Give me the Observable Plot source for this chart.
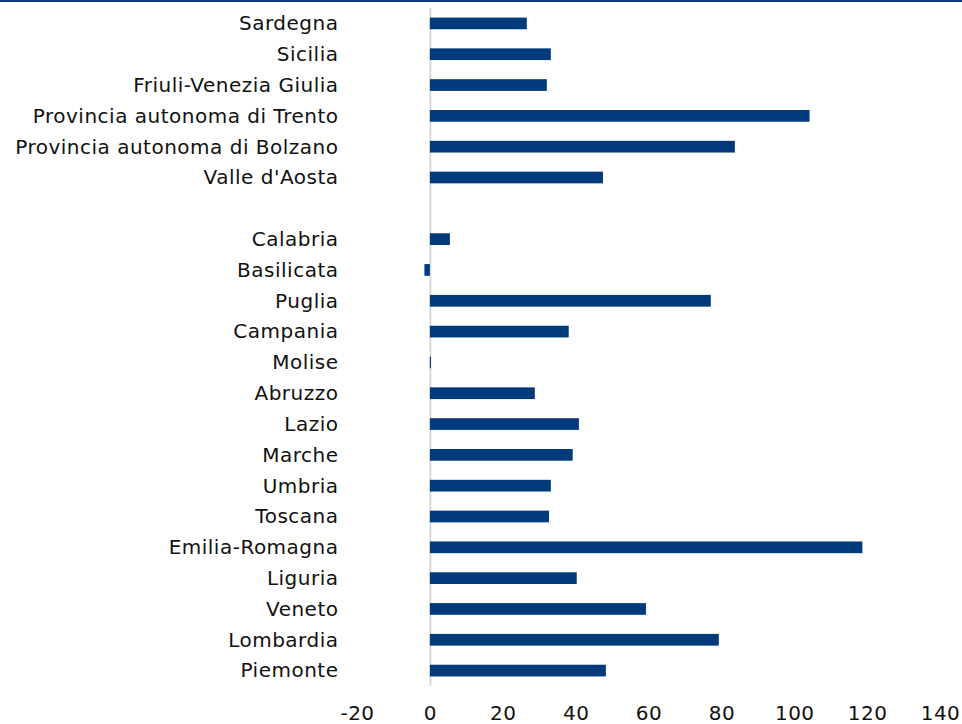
<!DOCTYPE html>
<html>
<head>
<meta charset="utf-8">
<script src="https://cdn.jsdelivr.net/npm/d3@7"></script>
<script src="https://cdn.jsdelivr.net/npm/@observablehq/plot@0.6"></script>
<style>
  html, body { margin: 0; padding: 0; background: #fff; }
  #chart { width: 962px; border-top: 2px solid #0b3a78; }
  svg { display: block; }
  svg text { letter-spacing: 0.5px; }
</style>
</head>
<body>
<div id="chart"></div>
<script>
const regions = [
  "Sardegna", "Sicilia", "Friuli-Venezia Giulia", "Provincia autonoma di Trento",
  "Provincia autonoma di Bolzano", "Valle d'Aosta", " ",
  "Calabria", "Basilicata", "Puglia", "Campania", "Molise", "Abruzzo", "Lazio",
  "Marche", "Umbria", "Toscana", "Emilia-Romagna", "Liguria", "Veneto",
  "Lombardia", "Piemonte"
];
const values = [
  26.6, 33.2, 32.1, 104.2,
  83.7, 47.5, null,
  5.5, -1.5, 77.1, 38.1, 0.3, 28.8, 40.9,
  39.2, 33.2, 32.7, 118.7, 40.3, 59.3,
  79.3, 48.3
];
const xTicks = [-20, 0, 20, 40, 60, 80, 100, 120, 140];

const data = regions.map((r, i) => ({region: r, value: values[i]})).filter(d => d.value !== null);

const chart = Plot.plot({
  width: 962,
  height: 722,
  marginTop: 6,
  marginBottom: 38,
  marginLeft: 357,
  marginRight: 22,
  style: {fontFamily: "DejaVu Sans", fontSize: "20px", color: "#111"},
  x: {domain: [-20, 140], ticks: xTicks, label: null, axis: null},
  y: {domain: regions, label: null, paddingInner: 0.62, paddingOuter: 0.31, round: false, axis: null},
  marks: [
    Plot.axisY({tickSize: 0, tickPadding: 19, fontSize: 20, label: null, stroke: "none"}),
    Plot.axisX({ticks: xTicks, tickSize: 0, tickPadding: 19, fontSize: 20, label: null, anchor: "bottom", tickFormat: d => String(d)}),
    Plot.ruleX([0], {stroke: "#d9d9d9", strokeWidth: 2}),
    Plot.barX(data, {x: "value", y: "region", fill: "#013b7b"})
  ]
});
document.getElementById("chart").appendChild(chart);
</script>
</body>
</html>
